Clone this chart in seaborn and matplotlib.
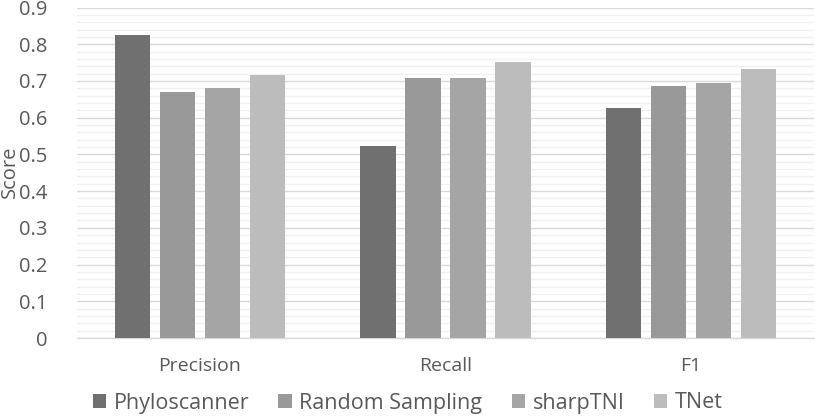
import matplotlib
matplotlib.use("Agg")
import matplotlib.pyplot as plt
from matplotlib.patches import Patch
from matplotlib.ticker import MultipleLocator
import seaborn as sns
import pandas as pd

metrics = ["Precision", "Recall", "F1"]
methods = ["Phyloscanner", "Random Sampling", "sharpTNI", "TNet"]
phyloscanner = [0.826, 0.522, 0.625]
random_sampling = [0.669, 0.708, 0.686]
sharptni = [0.682, 0.707, 0.694]
tnet = [0.715, 0.752, 0.733]
colors = ["#707070", "#999999", "#a5a5a5", "#bcbcbc"]

rows = []
for m, vals in zip(methods, [phyloscanner, random_sampling, sharptni, tnet]):
    for cat, v in zip(metrics, vals):
        rows.append({"Metric": cat, "Method": m, "Score": v})
df = pd.DataFrame(rows)

sns.set_theme(style="white")
plt.rcParams['font.family'] = ['Open Sans', 'DejaVu Sans']
text_color = "#595959"

fig = plt.figure(figsize=(8.15, 4.16), dpi=100)
ax = fig.add_axes([77/815, 1-338/416, 737/815, (338-7.5)/416])

sns.barplot(data=df, x="Metric", y="Score", hue="Method", order=metrics,
            hue_order=methods, palette=colors, width=0.733, gap=0.22,
            linewidth=0, ax=ax, legend=False, zorder=3)

ax.set_ylim(0, 0.9)
ax.set_xlim(-0.5, 2.5)
ax.yaxis.set_major_locator(MultipleLocator(0.1))
ax.yaxis.set_minor_locator(MultipleLocator(0.02))
ax.grid(axis="y", which="major", color="#d9d9d9", linewidth=1.0, zorder=0)
ax.grid(axis="y", which="minor", color="#f0f0f0", linewidth=1.0, zorder=0)
ax.set_axisbelow(True)
for s in ["top", "right", "left"]:
    ax.spines[s].set_visible(False)
ax.spines["bottom"].set_color("#d9d9d9")
ax.spines["bottom"].set_linewidth(1.0)

yt = [round(0.1*i, 1) for i in range(10)]
ax.set_yticks(yt)
ax.set_yticklabels(["0"] + [f"{v:.1f}" for v in yt[1:]])
ax.tick_params(axis="y", which="both", length=0, pad=21, labelsize=14.5, labelcolor=text_color)
ax.tick_params(axis="x", length=0, pad=14, labelsize=14, labelcolor=text_color)
ax.set_xlabel("")
ax.set_ylabel("")
fig.text(10/815, 1-172/416, "Score", rotation=90, ha="center", va="center",
         fontsize=14.5, color=text_color)

handles = [Patch(facecolor=c, edgecolor="none", label=m) for c, m in zip(colors, methods)]
leg = fig.legend(handles=handles, loc="center", bbox_to_anchor=(0.5, 1-403/416),
                 ncol=4, frameon=False, fontsize=15.5, handlelength=0.62,
                 handleheight=0.62, handletextpad=0.35, columnspacing=1.36,
                 labelcolor=text_color)

fig.savefig("out.png", dpi=100)
